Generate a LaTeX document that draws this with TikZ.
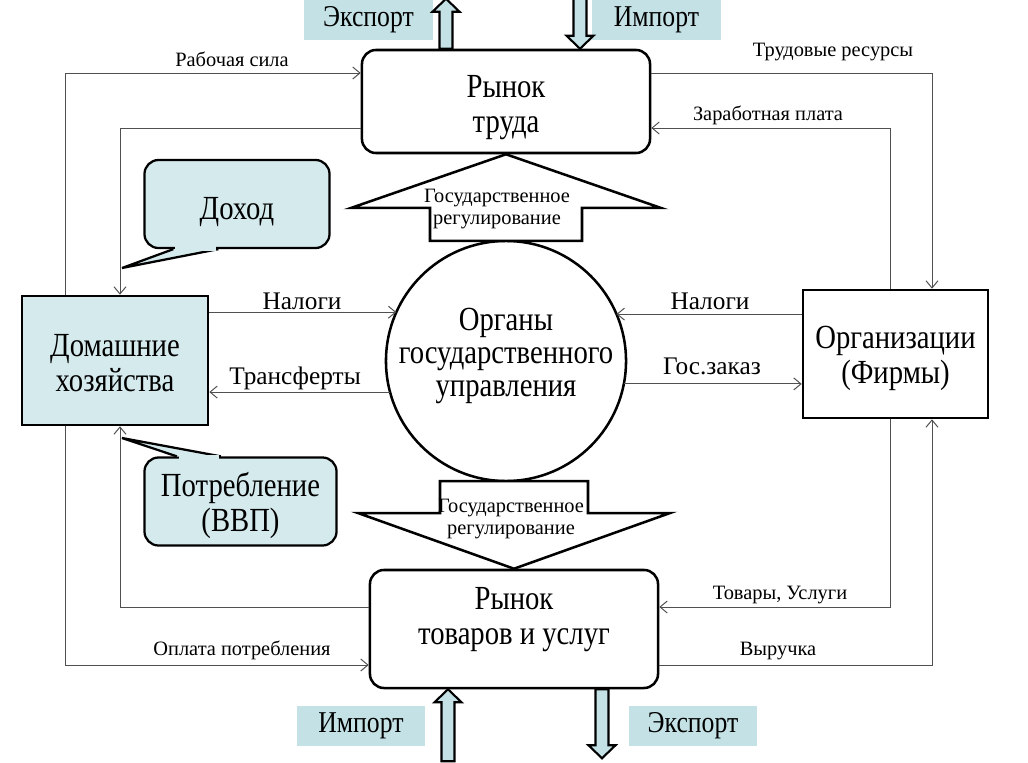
\documentclass[tikz,border=0pt]{standalone}
\usepackage{fontspec}
\setmainfont[FakeStretch=0.85]{Liberation Serif}
\newfontfamily\widefont{Liberation Serif}
\usetikzlibrary{arrows.meta,calc,positioning}
\definecolor{paleteal}{RGB}{212,234,237}
\definecolor{tagteal}{RGB}{196,226,230}
\definecolor{flowgray}{RGB}{80,80,80}
\tikzset{
  market/.style={draw,line width=1.8pt,rounded corners=10pt,fill=white,minimum width=7.2cm,align=center,font=\fontsize{24}{25}\selectfont},
  agent/.style={draw,line width=1.8pt,align=center,font=\fontsize{24}{25}\selectfont},
  govbody/.style={draw,circle,line width=1.8pt,fill=white,minimum size=6cm,inner sep=0pt,outer sep=0pt,align=center,font=\fontsize{24}{23.5}\selectfont},
  callout/.style={draw,line width=1.6pt,fill=paleteal,rounded corners=10pt,minimum height=2.2cm,align=center,font=\fontsize{24}{25}\selectfont},
  tail/.style={draw,line width=1.6pt,fill=paleteal,line join=miter},
  tag/.style={fill=tagteal,minimum width=3.2cm,minimum height=1cm,font=\fontsize{21.5}{22}\selectfont},
  trade/.style={draw,line width=1.5pt,fill=tagteal,line join=miter},
  regarrow/.style={draw,line width=1.8pt,fill=white,line join=miter},
  flow/.style={draw=flowgray,line width=0.7pt,-{Straight Barb[length=1.8mm,width=3mm]}},
  flbl/.style={font=\widefont\fontsize{18}{19}\selectfont},
  slbl/.style={font=\widefont\fontsize{14.5}{15}\selectfont},
  rlbl/.style={align=center,font=\widefont\fontsize{14.5}{16}\selectfont},
}
\begin{document}
\begin{tikzpicture}[x=0.025cm,y=-0.025cm]
  \useasboundingbox (0,0) rectangle (1028,763);
  % ---------------- routing lines ----------------
  \coordinate (xL) at (65,0);
  \coordinate (xLi) at (120,0);
  \coordinate (xRi) at (890,0);
  \coordinate (xR) at (932,0);
  \coordinate (yT1) at (0,73);
  \coordinate (yT2) at (0,128);
  \coordinate (yB1) at (0,607);
  \coordinate (yB2) at (0,665);
  % ---------------- main blocks ----------------
  \node[market,minimum height=2.575cm] (lab) at (506,101.5) {\rule{0pt}{24.5pt}Рынок\\труда};
  \node[market,minimum height=2.95cm] (goods) at (514,629) {Рынок\\товаров и услуг\\[-6pt]};
  \node[agent,fill=paleteal,minimum width=4.65cm,minimum height=3.225cm] (hh) at (115,360.5) {\rule{0pt}{20pt}Домашние\\хозяйства};
  \node[agent,fill=white,minimum width=4.625cm,minimum height=3.2cm] (firm) at (895.5,354) {\rule{0pt}{22pt}Организации\\(Фирмы)};
  \node[govbody] (gov) at (506,361) {Органы\\государственного\\управления\rule[-12pt]{0pt}{0pt}};
  % ---------------- government regulation ----------------
  \draw[regarrow] ($(gov.north)+(-76,0)$) -- ($(gov.north)+(-76,-33)$) -- ($(gov.north)+(-155,-33)$)
    -- (lab.south) -- ($(gov.north)+(155,-33)$) -- ($(gov.north)+(76,-33)$) -- ($(gov.north)+(76,0)$) -- cycle;
  \node[rlbl] (regT) at (497,209) {Государственное\\регулирование};
  \draw[regarrow] ($(gov.south -| goods.north)+(-74,0)$) -- ($(gov.south -| goods.north)+(-74,32)$)
    -- ($(gov.south -| goods.north)+(-156,32)$) -- (goods.north) -- ($(gov.south -| goods.north)+(156,32)$)
    -- ($(gov.south -| goods.north)+(74,32)$) -- ($(gov.south -| goods.north)+(74,0)$) -- cycle;
  \node[rlbl] (regB) at (511,519) {Государственное\\регулирование};
  % ---------------- callouts ----------------
  \node[callout,minimum width=4.625cm] (inc) at (237,204) {\rule{0pt}{27.5pt}Доход};
  \coordinate (incTip) at (122,268);
  \filldraw[tail] ($(inc.south west)+(30,0)$) -- (incTip) -- ($(inc.south west)+(75,0)$);
  \fill[paleteal] ($(inc.south west)+(32,-3)$) rectangle ($(inc.south west)+(73,1.5)$);
  \node[callout,minimum width=4.8cm] (cons) at (240.5,501.5) {\rule{0pt}{22.5pt}Потребление\\(ВВП)};
  \coordinate (consTip) at (122,438);
  \filldraw[tail] ($(cons.north west)+(33.5,0)$) -- (consTip) -- ($(cons.north west)+(77.5,0)$);
  \fill[paleteal] ($(cons.north west)+(35.5,-1.5)$) rectangle ($(cons.north west)+(75.5,3)$);
  % ---------------- import / export ----------------
  \node[tag] (expT) at (368.5,20) {Экспорт};
  \node[tag] (impT) at (656.5,20) {Импорт};
  \node[tag] (impB) at (361,725.5) {Импорт};
  \node[tag] (expB) at (693,725.5) {Экспорт};
  \draw[trade] ($(lab.north)+(-66.5,0)$) -- ++(0,-37) -- ++(-7,0) -- ++(13.5,-13) -- ++(13.5,13) -- ++(-7,0) -- ++(0,37) -- cycle;
  \draw[trade] ($(lab.north)+(74,0)$) -- ++(-13.5,-13) -- ++(7,0) -- ++(0,-37) -- ++(13,0) -- ++(0,37) -- ++(7,0) -- cycle;
  \draw[trade] ($(goods.south)+(-66,0)$) -- ++(13.5,13) -- ++(-7,0) -- ++(0,59) -- ++(-13,0) -- ++(0,-59) -- ++(-7,0) -- cycle;
  \draw[trade] ($(goods.south)+(81.5,0)$) -- ++(0,56) -- ++(-7,0) -- ++(13.5,13) -- ++(13.5,-13) -- ++(-7,0) -- ++(0,-56) -- cycle;
  % ---------------- flows: households ----------------
  \draw[flow] (hh.north -| xL) |- (lab.west |- yT1);
  \draw[flow] (lab.west |- yT2) -| (hh.north -| xLi);
  \draw[flow] (hh.south -| xL) |- (goods.west |- yB2);
  \draw[flow] (goods.west |- yB1) -| (hh.south -| xLi);
  \node[slbl] (lblLab) at (232,59) {Рабочая сила};
  \node[slbl] (lblPay) at (242,650) {Оплата потребления};
  % ---------------- flows: firms ----------------
  \draw[flow] (lab.east |- yT1) -| (firm.north -| xR);
  \draw[flow] (firm.north -| xRi) |- (lab.east |- yT2);
  \draw[flow] (firm.south -| xRi) |- (goods.east |- yB1);
  \draw[flow] (goods.east |- yB2) -| (firm.south -| xR);
  \node[slbl] (lblRes) at (833,52) {Трудовые ресурсы};
  \node[slbl] (lblWage) at (768,115) {Заработная плата};
  \node[slbl] (lblGoods) at (780,595) {Товары, Услуги};
  \node[slbl] (lblRev) at (778,651) {Выручка};
  % ---------------- flows: government ----------------
  \draw[flow] (hh.east |- gov.156.4) -- (gov.156.4);
  \draw[flow] (gov.195.5) -- (hh.east |- gov.195.5);
  \draw[flow] (firm.west |- gov.23.6) -- (gov.23.6);
  \draw[flow] (gov.-11.5) -- (firm.west |- gov.-11.5);
  \node[flbl] (lblTaxH) at (302,301) {Налоги};
  \node[flbl] (lblTrans) at (295,378) {Трансферты};
  \node[flbl] (lblTaxF) at (710,301) {Налоги};
  \node[flbl] (lblOrder) at (712,366) {Гос.заказ};
\end{tikzpicture}
\end{document}
